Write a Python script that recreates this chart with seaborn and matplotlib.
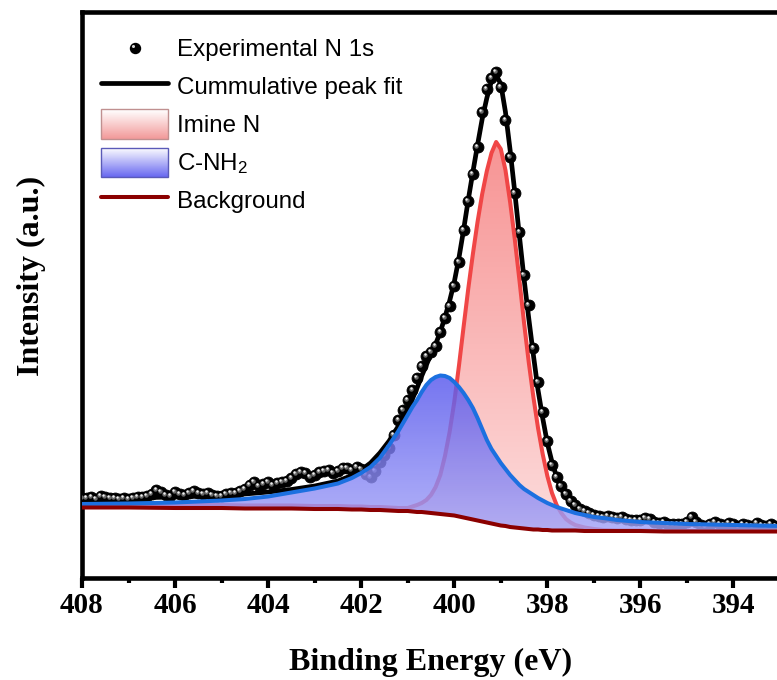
import numpy as np
import matplotlib
matplotlib.use("Agg")
import matplotlib.pyplot as plt
import matplotlib.transforms as mtransforms
import seaborn as sns
from matplotlib.colors import LinearSegmentedColormap, to_rgb
from matplotlib.legend_handler import HandlerBase
from matplotlib.lines import Line2D
from matplotlib.patches import Rectangle, Patch
from matplotlib.ticker import MultipleLocator, FormatStrFormatter

# ---------------------------------------------------------------- data
# Experimental N 1s spectrum (counts), 0.1 eV steps starting at 408.0 eV
exp_start_ev = 408.0
exp_step_ev = 0.1
exp_counts = [
    4000, 4000, 4050, 3950, 4100, 4050, 4000, 4000, 3950, 4000,
    3950, 4000, 4050, 4050, 4100, 4200, 4400, 4300, 4150, 4100,
    4300, 4200, 4150, 4250, 4350, 4250, 4200, 4250, 4150, 4100,
    4100, 4200, 4250, 4250, 4350, 4450, 4650, 4800, 4600, 4700,
    4800, 4650, 4750, 4800, 4850, 5000, 5200, 5300, 5250, 5050,
    5150, 5300, 5350, 5400, 5250, 5350, 5500, 5500, 5400, 5550,
    5450, 5200, 5050, 5350, 5800, 6150, 6500, 7150, 7900, 8400,
    8900, 9400, 10000, 10600, 11100, 11300, 11600, 12300, 13000, 13600,
    14600, 15800, 17400, 18850, 20200, 21550, 23300, 24450, 25000, 25300,
    24550, 22900, 21050, 19250, 17300, 15150, 13650, 11500, 9800, 8300,
    6850, 5650, 5050, 4600, 4200, 3850, 3650, 3450, 3350, 3250,
    3150, 3100, 3050, 3100, 3050, 3000, 3050, 2950, 2900, 2900,
    2900, 3000, 2950, 2800, 2750, 2800, 2700, 2700, 2700, 2700,
    2800, 3050, 2800, 2650, 2600, 2700, 2800, 2700, 2650, 2750,
    2700, 2600, 2700, 2650, 2600, 2750, 2650, 2600, 2700, 2600,
    2600,
]

# Fitted components on a common energy grid (eV)
fit_energy = [
    408.0, 407.0, 406.0, 405.0, 404.5, 404.0, 403.5, 403.0, 402.5, 402.2,
    402.0, 401.8, 401.6, 401.4, 401.2, 401.0,
    400.9, 400.8, 400.7, 400.6, 400.5, 400.4, 400.3, 400.2, 400.1, 400.0,
    399.9, 399.8, 399.7, 399.6, 399.5, 399.4, 399.3, 399.2, 399.1, 399.0,
    398.9, 398.8, 398.7, 398.6, 398.5, 398.4, 398.3, 398.2, 398.1, 398.0,
    397.9, 397.8, 397.7, 397.6, 397.5, 397.4,
    397.2, 397.0, 396.8, 396.5, 396.0, 395.5, 395.0, 394.0, 393.0, 392.0,
]
background = [
    3525, 3525, 3500, 3500, 3475, 3475, 3475, 3450, 3450, 3425,
    3425, 3400, 3400, 3375, 3350, 3350,
    3325, 3300, 3300, 3275, 3250, 3225, 3200, 3175, 3150, 3125,
    3075, 3025, 2975, 2925, 2875, 2825, 2775, 2725, 2675, 2625,
    2600, 2550, 2525, 2500, 2475, 2450, 2425, 2425, 2400, 2400,
    2375, 2375, 2375, 2375, 2375, 2375,
    2350, 2350, 2350, 2350, 2350, 2325, 2325, 2325, 2325, 2325,
]
imine_n = [
    3675, 3675, 3650, 3650, 3625, 3625, 3625, 3600, 3600, 3575,
    3575, 3550, 3550, 3525, 3500, 3500,
    3575, 3650, 3750, 3900, 4150, 4550, 5150, 6100, 7300, 8800,
    10600, 12550, 14450, 16200, 17800, 19200, 20350, 21250, 21800, 21450,
    20400, 18800, 16950, 14900, 12750, 10800, 9050, 7500, 6200, 5100,
    4250, 3650, 3250, 2950, 2775, 2650,
    2525, 2450, 2400, 2375, 2375, 2350, 2350, 2350, 2350, 2350,
]
c_nh2 = [
    3700, 3725, 3775, 3875, 3950, 4075, 4275, 4475, 4725, 5000,
    5250, 5550, 6000, 6650, 7350, 8150,
    8550, 8900, 9300, 9650, 9900, 10050, 10125, 10100, 10000, 9800,
    9550, 9250, 8900, 8500, 8000, 7450, 6900, 6450, 6100, 5750,
    5450, 5150, 4900, 4650, 4450, 4300, 4150, 4000, 3875, 3750,
    3650, 3550, 3475, 3400, 3325, 3250,
    3150, 3050, 3000, 2900, 2800, 2750, 2700, 2650, 2600, 2575,
]
envelope = [
    3975, 4000, 4050, 4125, 4200, 4300, 4425, 4600, 4850, 5125,
    5400, 5750, 6250, 6850, 7600, 8500,
    8950, 9500, 10100, 10650, 11200, 11700, 12300, 13050, 13850, 14800,
    16000, 17400, 18900, 20300, 21650, 22950, 24000, 24850, 25150, 24700,
    23300, 21400, 19300, 17100, 14950, 13000, 11150, 9400, 8000, 6750,
    5800, 5050, 4450, 4050, 3750, 3550,
    3300, 3150, 3050, 2950, 2850, 2775, 2725, 2675, 2625, 2600,
]

x_ticks = [408, 406, 404, 402, 400, 398, 396, 394]
legend_labels = ["Experimental N 1s", "Cummulative peak fit", "Imine N",
                 "C-NH$_2$", "Background"]

exp_energy = exp_start_ev - exp_step_ev * np.arange(len(exp_counts))
fit_x = np.asarray(fit_energy, float)
bg_y = np.asarray(background, float)
imine_y = np.asarray(imine_n, float)
amine_y = np.asarray(c_nh2, float)
env_y = np.asarray(envelope, float)

# ---------------------------------------------------------------- style
sns.set_style("ticks")
plt.rcParams["font.family"] = ["Liberation Sans", "DejaVu Sans"]
plt.rcParams["mathtext.default"] = "regular"
plt.rcParams["text.color"] = "black"
plt.rcParams["axes.labelcolor"] = "black"
plt.rcParams["xtick.color"] = "black"
SERIF = ["Liberation Serif", "DejaVu Serif"]

COL_ENV = "#000000"
COL_IMINE = "#f04646"
COL_AMINE = "#1c70e0"
COL_BG = "#8b0000"

fig = plt.figure(figsize=(7.77, 6.80), dpi=100)
ax = fig.add_axes([82 / 777, 102 / 680, 698 / 777, 566 / 680])


def gradient_fill(ax, x, lower, upper, c_top, c_bottom, zorder, alpha=1.0):
    """Fill between two curves with a vertical colour gradient."""
    poly = ax.fill_between(x, lower, upper, facecolor="none",
                           edgecolor="none", zorder=zorder)
    cmap = LinearSegmentedColormap.from_list("grad", [c_bottom, c_top])
    shade = np.linspace(0.0, 1.0, 256).reshape(-1, 1)
    im = ax.imshow(shade, extent=[x.max(), x.min(), lower.min(), upper.max()],
                   origin="lower", aspect="auto", cmap=cmap, alpha=alpha,
                   zorder=zorder, interpolation="bilinear")
    im.set_clip_path(poly.get_paths()[0], transform=ax.transData)
    return im


# cumulative fit
sns.lineplot(x=fit_x, y=env_y, ax=ax, color=COL_ENV, lw=3.4, zorder=2,
             sort=False, estimator=None)

# experimental points drawn as shaded spheres
sns.scatterplot(x=exp_energy, y=exp_counts, ax=ax, s=62, color="black",
                edgecolor="black", linewidth=0.6, zorder=3)
shine1 = mtransforms.offset_copy(ax.transData, fig=fig, x=-1.4, y=1.4, units="dots")
shine2 = mtransforms.offset_copy(ax.transData, fig=fig, x=-1.8, y=1.8, units="dots")
ax.scatter(exp_energy, exp_counts, s=10, color="#6a6a6a", lw=0,
           transform=shine1, zorder=3.1)
ax.scatter(exp_energy, exp_counts, s=3, color="#f0f0f0", lw=0,
           transform=shine2, zorder=3.2)

# Imine N component
gradient_fill(ax, fit_x, bg_y, imine_y, (0.97, 0.58, 0.58), (0.99, 0.86, 0.86), 4)
sns.lineplot(x=fit_x, y=imine_y, ax=ax, color=COL_IMINE, lw=2.9, zorder=5,
             sort=False, estimator=None)

# C-NH2 component
gradient_fill(ax, fit_x, bg_y, amine_y, (0.34, 0.34, 0.93), (0.64, 0.64, 0.97), 6,
              alpha=0.82)
sns.lineplot(x=fit_x, y=amine_y, ax=ax, color=COL_AMINE, lw=2.9, zorder=7,
             sort=False, estimator=None)

# Shirley background
sns.lineplot(x=fit_x, y=bg_y, ax=ax, color=COL_BG, lw=2.9, zorder=8,
             sort=False, estimator=None)

# ---------------------------------------------------------------- axes
ax.set_xlim(408, 393)
ax.set_ylim(0, 28300)
ax.set_xticks(x_ticks)
ax.xaxis.set_major_formatter(FormatStrFormatter("%d"))
ax.xaxis.set_minor_locator(MultipleLocator(1))
ax.set_yticks([])
for side in ax.spines.values():
    side.set_linewidth(3.3)
    side.set_color("black")
ax.tick_params(axis="x", which="major", length=7.5, width=3.0, direction="out",
               pad=2.5, labelsize=21, colors="black")
ax.tick_params(axis="x", which="minor", length=3.8, width=3.0, direction="out")
for lab in ax.get_xticklabels():
    lab.set_fontfamily(SERIF)
    lab.set_fontweight("bold")

ax.set_xlabel("Binding Energy (eV)", fontsize=23, fontweight="bold",
              fontfamily=SERIF)
ax.set_ylabel("Intensity (a.u.)", fontsize=23, fontweight="bold",
              fontfamily=SERIF)
ax.xaxis.set_label_coords(0.5, -0.124)
ax.yaxis.set_label_coords(-0.052, 0.534)


# ---------------------------------------------------------------- legend
class SphereHandler(HandlerBase):
    def create_artists(self, legend, orig_handle, xdescent, ydescent,
                       width, height, fontsize, trans):
        cx = width / 2 - xdescent
        cy = height / 2 - ydescent
        ball = Line2D([cx], [cy], marker="o", ms=7.2, color="black",
                      mec="black", ls="none", transform=trans)
        glint = Line2D([cx - 1.0], [cy + 1.0], marker="o", ms=2.2,
                       color="#d8d8d8", mec="none", ls="none", transform=trans)
        return [ball, glint]


class GradientSwatch(HandlerBase):
    def __init__(self, c_bottom, edge):
        super().__init__()
        self.c_bottom = np.array(to_rgb(c_bottom))
        self.edge = edge

    def create_artists(self, legend, orig_handle, xdescent, ydescent,
                       width, height, fontsize, trans):
        x0, y0 = -xdescent, -ydescent
        n = 30
        arts = []
        for i in range(n):
            f = i / (n - 1)
            col = self.c_bottom * (1 - f) + np.ones(3) * f
            arts.append(Rectangle((x0, y0 + height * i / n), width,
                                  height / n + 0.4, facecolor=col,
                                  edgecolor="none", transform=trans))
        arts.append(Rectangle((x0, y0), width, height, facecolor="none",
                              edgecolor=self.edge, lw=1.0, transform=trans))
        return arts


h_exp = Line2D([], [], marker="o", color="black", ls="none")
h_env = Line2D([], [], color=COL_ENV, lw=3.4)
h_imine = Patch(facecolor="#f4a0a0")
h_amine = Patch(facecolor="#7070f0")
h_bg = Line2D([], [], color=COL_BG, lw=2.9)

leg = ax.legend(
    [h_exp, h_env, h_imine, h_amine, h_bg], legend_labels,
    handler_map={h_exp: SphereHandler(),
                 h_imine: GradientSwatch("#f29a9a", "#c09090"),
                 h_amine: GradientSwatch("#6a6af0", "#5a5ab8")},
    loc="upper left", bbox_to_anchor=(0.013, 0.980), frameon=False,
    fontsize=17.4, handlelength=2.8, handleheight=1.5, handletextpad=0.37,
    labelspacing=0.36, borderaxespad=0.0, borderpad=0.4,
)
leg.set_zorder(10)
for t in leg.get_texts():
    t.set_color("black")

fig.savefig("out.png", dpi=100)
